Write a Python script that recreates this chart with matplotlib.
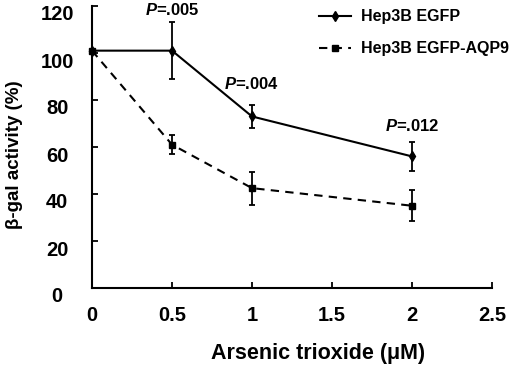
import matplotlib

matplotlib.use("Agg")
import matplotlib.pyplot as plt
import matplotlib.transforms as mtransforms
from matplotlib.lines import Line2D

plt.rcParams.update({
    "font.family": "Liberation Sans",
    "font.weight": "bold",
    "mathtext.fontset": "custom",
    "mathtext.it": "Liberation Sans:italic:bold",
    "mathtext.rm": "Liberation Sans:bold",
})

# data
dose = [0, 0.5, 1, 2]
egfp_mean = [101, 101, 73, 56]
egfp_err = [0, 12, 5, 6]
aqp9_mean = [101, 61, 42.5, 35]
aqp9_err = [0, 4, 7, 6.5]
p_labels = ["P=.005", "P=.004", "P=.012"]
p_x = [0.5, 1, 2]
p_y = [118.5, 87, 69]
x_ticks = [0, 0.5, 1, 1.5, 2, 2.5]
x_ticklabels = ["0", "0.5", "1", "1.5", "2", "2.5"]
y_ticks = [0, 20, 40, 60, 80, 100, 120]

DASH = (0, (4, 3))

fig = plt.figure(figsize=(5.2, 3.66), dpi=100)
ax = fig.add_axes([92 / 520, 78 / 366, 400 / 520, 282 / 366])

ax.errorbar(dose, egfp_mean, yerr=egfp_err, color="black", lw=1.5,
            marker="d", markersize=5.5, capsize=2.5, elinewidth=1.3,
            capthick=1.3, clip_on=False, zorder=3)
ax.errorbar(dose, aqp9_mean, yerr=aqp9_err, color="black", lw=1.5,
            linestyle=DASH, marker="s", markersize=5, capsize=2.5,
            elinewidth=1.3, capthick=1.3, clip_on=False, zorder=3)

for x, y, s in zip(p_x, p_y, p_labels):
    ax.text(x, y, "$P$" + s[1:], ha="center", va="center", fontsize=12,
            fontweight="bold")

ax.set_xlim(0, 2.5)
ax.set_ylim(0, 120)
ax.set_xticks(x_ticks)
ax.set_xticklabels(x_ticklabels)
ax.set_yticks(y_ticks)
for side in ("top", "right"):
    ax.spines[side].set_visible(False)
for side in ("left", "bottom"):
    ax.spines[side].set_linewidth(1.5)
ax.tick_params(direction="in", length=4, width=1.3, labelsize=14.5)
ax.tick_params(axis="x", pad=13)
ax.tick_params(axis="y", pad=25)

offset = mtransforms.ScaledTranslation(0, -0.07, fig.dpi_scale_trans)
for label in ax.get_yticklabels():
    label.set_ha("center")
    label.set_transform(label.get_transform() + offset)
    label.set_fontweight("bold")
for label in ax.get_xticklabels():
    label.set_fontweight("bold")

handles = [
    Line2D([], [], color="black", lw=1.5, marker="d", markersize=5.5),
    Line2D([], [], color="black", lw=1.5, linestyle=DASH, marker="s",
           markersize=5),
]
leg = ax.legend(handles, ["Hep3B EGFP", "Hep3B EGFP-AQP9"], loc="upper left",
                bbox_to_anchor=(313 / 520, 1 - 3 / 366),
                bbox_transform=fig.transFigure, frameon=False, fontsize=11.5,
                handlelength=2.0, handletextpad=0.6, labelspacing=1.05,
                borderaxespad=0)
for t in leg.get_texts():
    t.set_fontweight("bold")

fig.text(318 / 520, 13 / 366, "Arsenic trioxide (μM)", ha="center",
         va="center", fontsize=15.5, fontweight="bold")
fig.text(15 / 520, 1 - 155 / 366, "β-gal activity (%)", ha="center",
         va="center", rotation=90, fontsize=13.5, fontweight="bold")

fig.savefig("out.png", dpi=100)
